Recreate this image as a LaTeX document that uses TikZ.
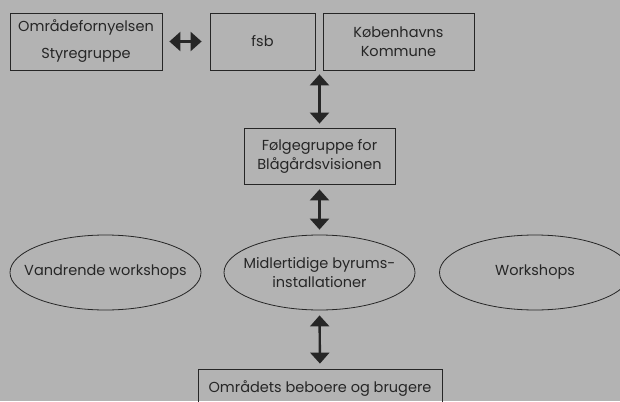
\documentclass[tikz,border=0pt]{standalone}
\usepackage{fontspec}
\setmainfont{Poppins}
\usetikzlibrary{arrows.meta}
\usetikzlibrary{shapes.geometric}
\definecolor{bg}{HTML}{B3B3B3}
\definecolor{ink}{HTML}{262626}

\begin{document}
\begin{tikzpicture}[x=1pt,y=-1pt,
  every node/.style={font=\fontsize{14.5}{19}\selectfont,text=ink},
  box/.style={draw=ink,line width=0.8pt,inner sep=0pt,align=center,minimum height=57pt},
  oval/.style={ellipse,draw=ink,line width=0.8pt,inner sep=0pt,minimum width=191pt,minimum height=75pt},
  ovaltext/.style={label={[align=center]center:#1}},
  dblarrow/.style={{Triangle[width=19pt,length=11pt]}-{Triangle[width=19pt,length=11pt]},line width=2.4pt,draw=ink}]
 \fill[bg] (0,0) rectangle (620,401);
 \clip (0,0) rectangle (620,401);
  % top row
  \node[box,minimum width=152pt] (styre) at (86,41.5) {Områdefornyelsen\\[8pt]Styregruppe};
  \node[box,minimum width=105pt] (fsb) at (262.5,41.5) {fsb};
  \node[box,minimum width=151pt] (kbh) at (398.5,41.5) {Københavns\\Kommune};
  \node[box,minimum width=151pt,minimum height=56pt] (folge) at (319.5,156) {Følgegruppe for\\Blågårdsvisionen};
  % ellipses (text as label, so the ellipse keeps its size)
  \node[oval,ovaltext={Vandrende workshops}] (vandr) at (105.5,272.5) {};
  \node[oval,ovaltext={Midlertidige byrums-\\installationer}] (midl) at (319.5,272.5) {};
  \node[oval,ovaltext={Workshops}] (works) at (535,272.5) {};
  \node[box,minimum width=244pt,minimum height=40pt] (beboer) at (320,389) {Områdets beboere og brugere};
  % arrows
  \draw[dblarrow,shorten <=7pt,shorten >=8pt] (styre.east) -- (fsb.west);
  \draw[dblarrow,shorten <=4pt,shorten >=4pt] (folge.north) -- (folge.north |- kbh.south);
  \draw[dblarrow,shorten <=5pt,shorten >=5pt] (folge.south) -- (midl.north);
  \draw[dblarrow,shorten <=5pt,shorten >=5pt] (midl.south) -- (beboer.north);
\end{tikzpicture}
\end{document}
